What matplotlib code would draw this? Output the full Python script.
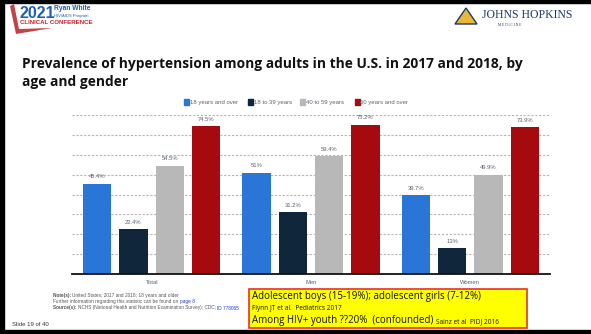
import numpy as np
import matplotlib.pyplot as plt
from matplotlib.patches import Rectangle, Polygon

# hypertension prevalence (%) by gender group and age band
groups = ['Total', 'Men', 'Women']
age_bands = ['18 years and over', '18 to 39 years', '40 to 59 years', '60 years and over']
over_18 = [45.4, 51.0, 39.7]
age_18_39 = [22.4, 31.2, 13.0]
age_40_59 = [54.5, 59.4, 49.9]
over_60 = [74.5, 75.2, 73.9]
bar_labels = [['45.4%', '51%', '39.7%'],
              ['22.4%', '31.2%', '13%'],
              ['54.5%', '59.4%', '49.9%'],
              ['74.5%', '75.2%', '73.9%']]

colors = ['#2a76d8', '#10263b', '#b8b8b8', '#a50a0e']
series = [over_18, age_18_39, age_40_59, over_60]

W, H = 591, 334
fig = plt.figure(figsize=(W / 100, H / 100), dpi=100)
fig.patch.set_facecolor('white')
renderer = fig.canvas.get_renderer()

def fx(px):
    return px / W

def fy(py):
    return 1 - py / H

def run_text(x0, y0, pieces, size, **kw):
    # lays out differently styled pieces one after another on a line
    x = x0
    for txt, weight, col in pieces:
        t = fig.text(fx(x), fy(y0), txt, fontsize=size, fontweight=weight, color=col,
                     va='center', **kw)
        x += t.get_window_extent(renderer).width

# slide frame
fig.add_artist(Rectangle((0, 0), fx(4), 1, transform=fig.transFigure, color='black', zorder=0))
fig.add_artist(Rectangle((0, fy(2.5)), 1, 2.5 / H, transform=fig.transFigure, color='black', zorder=0))
fig.add_artist(Rectangle((0, 0), 1, 4 / H, transform=fig.transFigure, color='black', zorder=0))

# conference logo
fig.add_artist(Polygon([[fx(10), fy(6)], [fx(14), fy(4)], [fx(19), fy(29)], [fx(52), fy(28)],
                        [fx(16), fy(34)]], closed=True, transform=fig.transFigure,
                       facecolor='#b8232b', edgecolor='none', alpha=0.85))
fig.text(fx(20), fy(14), '2021', fontsize=11.5, fontweight='bold', color='#1f5fb0',
         family='Liberation Sans', va='center', ha='left')
fig.text(fx(54), fy(9), 'Ryan White', fontsize=4.8, fontweight='bold', color='#1f5fb0',
         family='Liberation Sans', va='center')
fig.text(fx(54), fy(16), 'HIV/AIDS Program', fontsize=3.0, color='#1f5fb0',
         family='Liberation Sans', va='center')
fig.text(fx(20), fy(23), 'CLINICAL CONFERENCE', fontsize=4.4, fontweight='bold', color='#c8202a',
         family='Liberation Sans', va='center')

# university logo
fig.add_artist(Polygon([[fx(455), fy(24)], [fx(466), fy(8)], [fx(477), fy(24)]], closed=True,
                       transform=fig.transFigure, facecolor='#e5b935', edgecolor='#1b3a6b', lw=1))
fig.text(fx(482), fy(15), 'JOHNS HOPKINS', fontsize=8.5, color='#1b3a6b',
         family='Liberation Serif', va='center')
fig.text(fx(498), fy(25), 'M E D I C I N E', fontsize=2.6, color='#1b3a6b',
         family='Liberation Serif', va='center')

# title
fig.text(fx(22), fy(64), 'Prevalence of hypertension among adults in the U.S. in 2017 and 2018, by',
         fontsize=9.9, fontweight='bold', family='Open Sans', va='center', ha='left', color='#111111')
fig.text(fx(22), fy(82), 'age and gender',
         fontsize=9.9, fontweight='bold', family='Open Sans', va='center', ha='left', color='#111111')

# chart
ax = fig.add_axes([fx(72), fy(274), fx(550) - fx(72), fy(115) - fy(274)])
x = np.arange(len(groups))
width = 0.179
step = 0.228
offsets = [-1.5 * step, -0.5 * step, 0.5 * step, 1.5 * step]
for i, (vals, col) in enumerate(zip(series, colors)):
    bars = ax.bar(x + offsets[i], vals, width, color=col, label=age_bands[i], zorder=3)
    for b, lab in zip(bars, bar_labels[i]):
        ax.text(b.get_x() + b.get_width() / 2, b.get_height() + 2.2, lab, ha='center',
                va='bottom', fontsize=4.2, color='#5a6470', family='Liberation Sans')

ax.set_xlim(-0.5, 2.5)
ax.set_ylim(0, 80)
ax.set_yticks(np.arange(10, 81, 10))
ax.yaxis.grid(True, linestyle=(0, (2, 1.5)), color='#b5b5b5', linewidth=0.8, zorder=0)
ax.tick_params(left=False, labelleft=False, bottom=False, labelbottom=False)
for s in ['top', 'right', 'left']:
    ax.spines[s].set_visible(False)
ax.spines['bottom'].set_linewidth(1.3)
ax.spines['bottom'].set_color('#111111')
ax.spines['bottom'].set_zorder(4)
for xi, g in zip(x, groups):
    ax.text(xi, -3.2, g, ha='center', va='top', fontsize=4.2, color='#5a6470',
            family='Liberation Sans')

# legend
leg_x = [186, 250, 303, 357]
for lx, col, lab in zip(leg_x, colors, age_bands):
    fig.add_artist(Rectangle((fx(lx - 2.5), fy(104.5)), fx(5), fy(99.5) - fy(104.5),
                             transform=fig.transFigure, color=col))
    fig.text(fx(lx + 3.5), fy(102), lab, fontsize=4.3, color='#5a6470', va='center',
             family='Liberation Sans')

# notes
grey, link = '#555555', '#1a3cc8'
note_kw = dict(family='Liberation Sans')
run_text(53, 296, [('Note(s): ', 'bold', grey),
                   ('United States; 2017 and 2018; 18 years and older', 'normal', grey)],
         3.45, **note_kw)
run_text(53, 302, [('Further information regarding this statistic can be found on ', 'normal', grey),
                   ('page 8', 'normal', link)], 3.45, **note_kw)
run_text(53, 308, [('Source(s): ', 'bold', grey),
                   ('NCHS (National Health and Nutrition Examination Survey); CDC; ', 'normal', grey),
                   ('ID 778065', 'normal', link)], 3.45, **note_kw)

fig.text(fx(12), fy(324), 'Slide 19 of 40', fontsize=4.3, color='#333333', va='center',
         family='Liberation Sans')

# callout box
fig.add_artist(Rectangle((fx(248.5), fy(328)), fx(526.5) - fx(248.5), fy(288.5) - fy(328),
                         transform=fig.transFigure, facecolor='#ffff00', edgecolor='#e8302c',
                         linewidth=1.2, zorder=5))
fig.text(fx(252), fy(297), 'Adolescent boys (15-19%); adolescent girls (7-12%)', fontsize=7.0,
         color='#111111', va='center', family='Open Sans', zorder=6)
fig.text(fx(252), fy(308.5), 'Flynn JT et al.  Pediatrics 2017', fontsize=4.7,
         color='#111111', va='center', family='Open Sans', zorder=6)
box_kw = dict(family='Open Sans', zorder=6)
x0 = 252
t = fig.text(fx(x0), fy(320.5), 'Among HIV+ youth ??20%  (confounded) ', fontsize=7.0,
             color='#111111', va='center', **box_kw)
fig.text(fx(x0) + t.get_window_extent(renderer).width / W, fy(321.3), 'Sainz et al  PIDJ 2016',
         fontsize=4.7, color='#111111', va='center', **box_kw)

fig.savefig('out.png', dpi=100)
